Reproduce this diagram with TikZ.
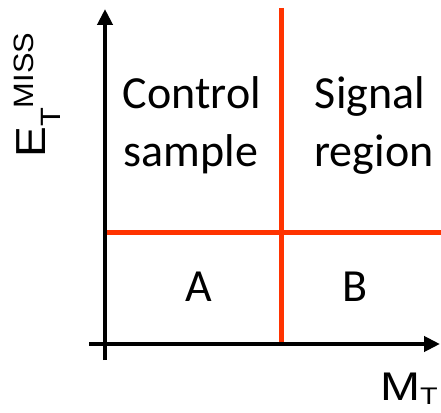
\documentclass[tikz,border=0pt]{standalone}
\usepackage{fontspec}
\setmainfont{Carlito}
\newfontfamily\arialf{Liberation Sans}
\usetikzlibrary{arrows.meta}
\definecolor{redline}{RGB}{255,51,0}
\begin{document}
\begin{tikzpicture}[x=1pt,y=1pt,
  axisline/.style={line width=4pt, -{Triangle[length=16pt,width=15pt]}},
  divider/.style={line width=5pt, draw=redline},
  regiontext/.style={inner sep=0pt, anchor=base, font=\fontsize{46}{46}\selectfont},
  axislabel/.style={inner sep=0pt, anchor=base west, font=\arialf}]
\useasboundingbox (0,0) rectangle (441,412);
% coordinates
\coordinate (yb) at (105,52);
\coordinate (yt) at (105,403);
\coordinate (xl) at (89,68);
\coordinate (xr) at (440,68);
\coordinate (rv1) at (281,404);
\coordinate (rv2) at (281,67);
\coordinate (rh1) at (105,179);
\coordinate (rh2) at (441,179);
% red dividers
\draw[divider] (rv1) -- (rv2);
\draw[divider] (rh1) -- (rh2);
% axes
\draw[axisline] (yb) -- (yt);
\draw[axisline] (xl) -- (xr);
% region texts
\node[regiontext] (ctrl1) at (192,303) {Control};
\node[regiontext] (ctrl2) at (191,245) {sample};
\node[regiontext] (sig1) at (370,303) {Signal};
\node[regiontext] (sig2) at (374,245) {region};
\node[regiontext] (a) at (199,110) {A};
\node[regiontext] (b) at (355,110) {B};
% axis labels
\node[axislabel, rotate=90] (ylab) at (45,254) {\scalebox{1.1}[1]{\fontsize{42}{42}\selectfont E\raisebox{-15pt}{\fontsize{28}{28}\selectfont T}\raisebox{12pt}{\fontsize{28}{28}\selectfont MISS}}};
\node[axislabel] (xlab) at (380,12) {\scalebox{1.2}[1]{\fontsize{40}{40}\selectfont M\raisebox{-4pt}{\fontsize{24}{24}\selectfont T}}};
\end{tikzpicture}
\end{document}
